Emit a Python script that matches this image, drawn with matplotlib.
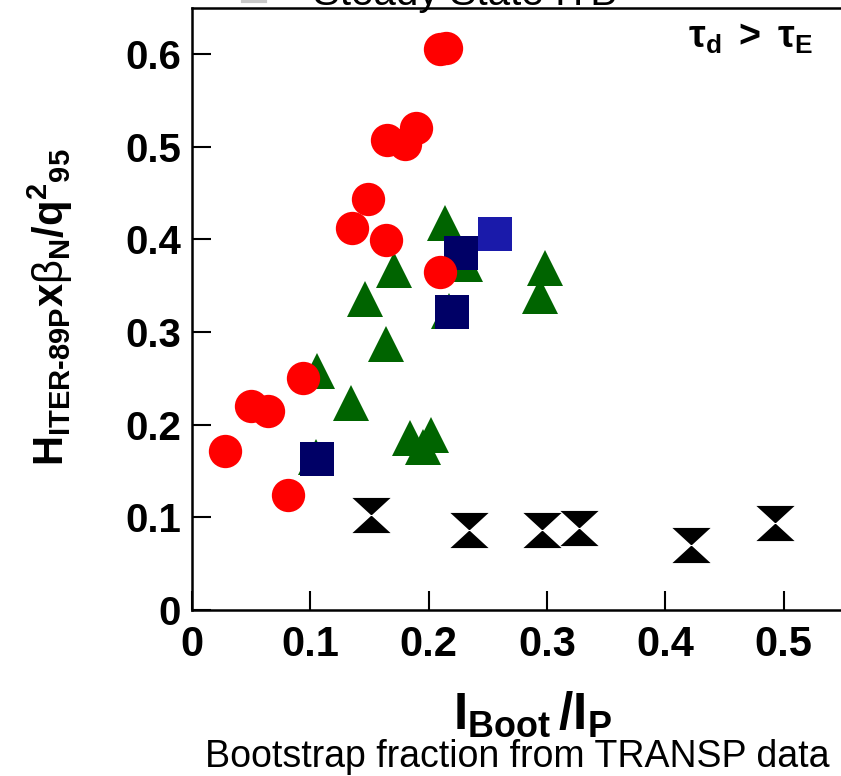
import matplotlib
matplotlib.use("Agg")
import matplotlib.pyplot as plt
from matplotlib.path import Path

# ---- data -------------------------------------------------------------
# red circles
circle_x = [0.028, 0.050, 0.064, 0.094, 0.081, 0.210, 0.215, 0.165, 0.180,
            0.189, 0.149, 0.135, 0.164, 0.210]
circle_y = [0.172, 0.220, 0.215, 0.250, 0.124, 0.605, 0.606, 0.507, 0.503,
            0.520, 0.443, 0.412, 0.399, 0.365]

# green triangles
tri_x = [0.214, 0.171, 0.146, 0.231, 0.298, 0.294, 0.217, 0.164, 0.106,
         0.134, 0.184, 0.195, 0.202, 0.105]
tri_y = [0.418, 0.367, 0.336, 0.373, 0.369, 0.339, 0.323, 0.287, 0.258,
         0.223, 0.186, 0.176, 0.189, 0.165]

# navy squares
sq_x = [0.106, 0.227, 0.220]
sq_y = [0.163, 0.385, 0.321]

# lighter blue square
bsq_x = [0.256]
bsq_y = [0.406]

# black hourglasses
hg_x = [0.151, 0.234, 0.296, 0.327, 0.422, 0.493]
hg_y = [0.102, 0.086, 0.086, 0.088, 0.070, 0.094]

x_ticks = [0, 0.1, 0.2, 0.3, 0.4, 0.5]
x_ticklabels = ["0", "0.1", "0.2", "0.3", "0.4", "0.5"]
y_ticks = [0, 0.1, 0.2, 0.3, 0.4, 0.5, 0.6]
y_ticklabels = ["0", "0.1", "0.2", "0.3", "0.4", "0.5", "0.6"]

# ---- fonts ------------------------------------------------------------
plt.rcParams["font.family"] = ["Liberation Sans", "DejaVu Sans"]
plt.rcParams["mathtext.fontset"] = "custom"
plt.rcParams["mathtext.rm"] = "Liberation Sans"
plt.rcParams["mathtext.it"] = "Liberation Sans"
plt.rcParams["mathtext.bf"] = "Liberation Sans:bold"

W, H = 841, 776
fig = plt.figure(figsize=(W / 100, H / 100), dpi=100)

# axes: left spine at x=192 px, bottom at y=610 px, top at y=7.5 px
px_per_unit_x = 1183.0
xmax = 0.6
left = 192 / W
bottom = (H - 610) / H
top = (H - 7.5) / H
ax = fig.add_axes([left, bottom, xmax * px_per_unit_x / W, top - bottom])
ax.set_xlim(0, xmax)
ax.set_ylim(0, 0.65)

# hourglass marker: two triangles meeting at the centre
hg_verts = [(-1, 0.92), (1, 0.92), (0, 0), (-1, 0.92),
            (-1, -0.92), (1, -0.92), (0, 0), (-1, -0.92)]
hg_codes = [Path.MOVETO, Path.LINETO, Path.LINETO, Path.CLOSEPOLY] * 2
hourglass = Path(hg_verts, hg_codes)

ax.plot(tri_x, tri_y, linestyle="none", marker="^", ms=26.5,
        color="#006400", mec="#006400", mew=0, zorder=3)
ax.plot(sq_x, sq_y, linestyle="none", marker="s", ms=24.5,
        color="#000066", mec="#000066", mew=0, zorder=4)
ax.plot(bsq_x, bsq_y, linestyle="none", marker="s", ms=24.5,
        color="#1a1aaa", mec="#1a1aaa", mew=0, zorder=4)
ax.plot(circle_x, circle_y, linestyle="none", marker="o", ms=24,
        color="#ff0000", mec="#ff0000", mew=0, zorder=5)
ax.plot(hg_x, hg_y, linestyle="none", marker=hourglass, ms=27.5,
        color="black", mec="black", mew=0, zorder=5)

for s in ("left", "bottom", "top"):
    ax.spines[s].set_linewidth(1.8)
ax.spines["right"].set_visible(False)

ax.set_xticks(x_ticks)
ax.set_xticklabels(x_ticklabels, fontweight="bold", fontsize=30)
ax.set_yticks(y_ticks)
ax.set_yticklabels(y_ticklabels, fontweight="bold", fontsize=29)
ax.tick_params(axis="both", direction="in", length=13.5, width=1.5)
ax.tick_params(axis="x", pad=11)
ax.tick_params(axis="y", pad=8)


def fx(px):
    return px / W


def fy(py):
    return 1 - py / H


# axis titles
ylabel = (r"$\mathbf{H_{ITER" + "\u2010" + r"89P}x}\beta_{\mathbf{N}}"
          r"\mathbf{/q^{2}{}_{95}}$")
fig.text(fx(50), fy(307), ylabel,
         rotation=90, ha="center", va="center", fontsize=30)
fig.text(fx(532), fy(729), r"$\mathbf{I_{Boot}\,/I_P}$",
         ha="center", va="baseline", fontsize=37)
fig.text(fx(517), fy(767), "Bootstrap fraction from TRANSP data",
         ha="center", va="baseline", fontsize=27)

# regime annotation
tau_text = r"$\mathbf{" + "\u03c4" + r"_d\ >\ " + "\u03c4" + r"_E}$"
fig.text(fx(751), fy(48), tau_text, ha="center", va="baseline", fontsize=27)

# legend entry at the top edge, mostly outside the frame
fig.add_artist(plt.Line2D([fx(243), fx(265)], [fy(1), fy(1)],
                          color="#c8c8c8", linewidth=3))
fig.text(fx(313), fy(5), "Steady State ITB", ha="left", va="baseline",
         fontsize=29)

fig.savefig("out.png", dpi=100)
